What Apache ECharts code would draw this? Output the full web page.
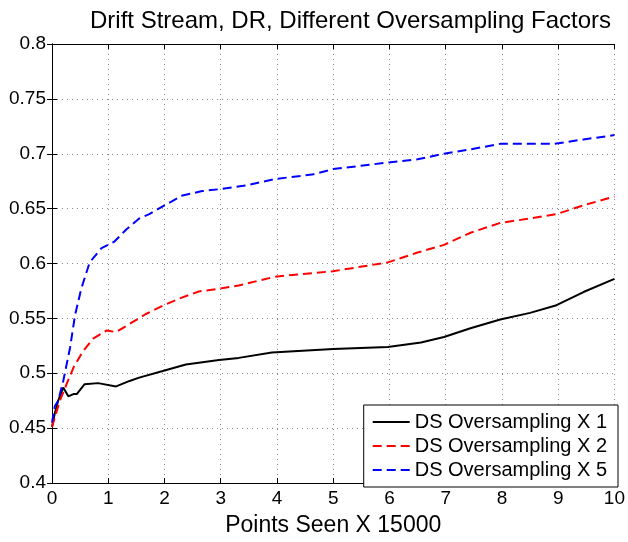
<!DOCTYPE html>
<html>
<head>
<meta charset="utf-8">
<script src="https://cdn.jsdelivr.net/npm/echarts@6/dist/echarts.min.js"></script>
<style>
    html, body { margin: 0; padding: 0; background: #fff; }
    #chart { width: 628px; height: 542px; }
</style>
</head>
<body>
<div id="chart"></div>
<script>
    // x positions (points seen / 15000) and accuracy for each oversampling factor
    const blackX = [0, 0.05, 0.11, 0.2, 0.29, 0.38, 0.44, 0.58, 0.82, 1.14, 1.38, 1.55, 1.97, 2.38, 2.97, 3.32, 3.91, 5.0, 5.97, 6.56, 6.97, 7.44, 7.97, 8.5, 8.97, 9.45, 10]
    const blackY = [0.451, 0.4635, 0.475, 0.487, 0.479, 0.481, 0.481, 0.49, 0.491, 0.488, 0.493, 0.496, 0.502, 0.508, 0.512, 0.514, 0.519, 0.522, 0.524, 0.528, 0.533, 0.541, 0.549, 0.555, 0.562, 0.574, 0.586]

    const redX = [0, 0.14, 0.26, 0.38, 0.55, 0.73, 0.97, 1.14, 1.43, 1.67, 1.97, 2.26, 2.61, 2.97, 3.32, 3.97, 5.0, 5.97, 6.5, 6.97, 7.44, 7.97, 8.5, 8.97, 9.45, 10]
    const redY = [0.451, 0.475, 0.49, 0.505, 0.52, 0.5315, 0.539, 0.5375, 0.5465, 0.554, 0.5615, 0.568, 0.5745, 0.577, 0.58, 0.588, 0.593, 0.601, 0.61, 0.617, 0.628, 0.637, 0.641, 0.645, 0.653, 0.661]

    const blueX = [0, 0.05, 0.11, 0.2, 0.32, 0.41, 0.52, 0.67, 0.88, 1.11, 1.32, 1.55, 1.73, 2.0, 2.32, 2.67, 3.03, 3.44, 3.97, 4.62, 5.0, 5.97, 6.5, 6.97, 7.44, 7.97, 8.5, 8.92, 9.45, 10]
    const blueY = [0.455, 0.47, 0.475, 0.493, 0.523, 0.553, 0.577, 0.601, 0.614, 0.62, 0.631, 0.641, 0.645, 0.653, 0.662, 0.666, 0.668, 0.671, 0.677, 0.681, 0.686, 0.692, 0.695, 0.7, 0.704, 0.709, 0.709, 0.709, 0.713, 0.717]

    const seriesNames = ['DS Oversampling X 1', 'DS Oversampling X 2', 'DS Oversampling X 5']

    const font = '"Liberation Sans", Helvetica, Arial, sans-serif'
    const zip = (xs, ys) => xs.map((x, i) => [x, ys[i]])

    const chart = echarts.init(document.getElementById('chart'))
    chart.setOption({
        animation: false,
        backgroundColor: '#fff',
        title: {
            text: 'Drift Stream, DR, Different Oversampling Factors',
            left: 85,
            top: 4,
            textStyle: {fontFamily: font, fontSize: 24, fontWeight: 'normal', color: '#000'}
        },
        grid: {left: 52, right: 10, top: 44, bottom: 51},
        legend: {
            orient: 'vertical',
            right: 10,
            bottom: 55,
            padding: [7, 11, 7, 8],
            itemWidth: 37,
            itemHeight: 14,
            itemGap: 4,
            backgroundColor: '#fff',
            borderColor: '#000',
            borderWidth: 1,
            itemStyle: {opacity: 0},
            textStyle: {fontFamily: font, fontSize: 20, color: '#000', lineHeight: 20},
            data: seriesNames
        },
        xAxis: [
            {
                type: 'value', min: 0, max: 10, interval: 1,
                name: 'Points Seen X 15000',
                nameLocation: 'middle',
                nameGap: 31,
                nameTextStyle: {fontFamily: font, fontSize: 23, color: '#000'},
                axisLine: {lineStyle: {color: '#000', width: 1}},
                axisTick: {inside: true, length: 5, lineStyle: {color: '#000'}},
                axisLabel: {fontFamily: font, fontSize: 19, color: '#000', margin: 6},
                splitLine: {show: true, lineStyle: {color: '#888', type: [1, 4], width: 1}}
            },
            {
                type: 'value', position: 'top', min: 0, max: 10, interval: 1,
                axisLine: {lineStyle: {color: '#000'}},
                axisTick: {inside: true, length: 5, lineStyle: {color: '#000'}},
                axisLabel: {show: false},
                splitLine: {show: false}
            }
        ],
        yAxis: [
            {
                type: 'value', min: 0.4, max: 0.8, interval: 0.05,
                axisLine: {show: true, lineStyle: {color: '#000', width: 1}},
                axisTick: {show: true, inside: true, length: 5, lineStyle: {color: '#000'}},
                axisLabel: {fontFamily: font, fontSize: 19, color: '#000', margin: 6},
                splitLine: {show: true, lineStyle: {color: '#888', type: [1, 4], width: 1}}
            },
            {
                type: 'value', position: 'right', min: 0.4, max: 0.8, interval: 0.05,
                axisLine: {show: true, lineStyle: {color: '#000'}},
                axisTick: {show: true, inside: true, length: 5, lineStyle: {color: '#000'}},
                axisLabel: {show: false},
                splitLine: {show: false}
            }
        ],
        series: [
            {
                name: seriesNames[0], type: 'line', showSymbol: false, symbol: 'none',
                lineStyle: {color: '#000', width: 2, type: 'solid'},
                itemStyle: {color: '#000'},
                data: zip(blackX, blackY)
            },
            {
                name: seriesNames[1], type: 'line', showSymbol: false, symbol: 'none',
                lineStyle: {color: '#ff0000', width: 2, type: [9, 5]},
                itemStyle: {color: '#ff0000'},
                data: zip(redX, redY)
            },
            {
                name: seriesNames[2], type: 'line', showSymbol: false, symbol: 'none',
                lineStyle: {color: '#0000ff', width: 2, type: [9, 5]},
                itemStyle: {color: '#0000ff'},
                data: zip(blueX, blueY)
            }
        ]
    })
</script>
</body>
</html>
